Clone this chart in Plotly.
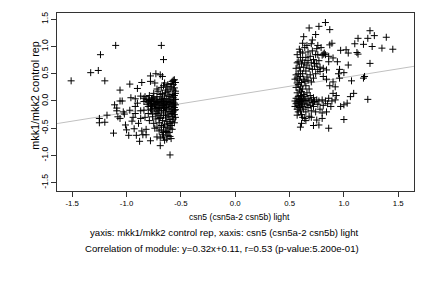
import plotly.graph_objects as go

# ---- data ----
left_sparse = [(-1.51,0.37),(-1.33,0.52),(-1.26,0.56),(-1.24,0.85),(-1.20,0.37),(-1.10,1.02),
(-1.25,-0.32),(-1.25,-0.40),(-1.20,-0.39),(-1.18,-0.26),(-1.12,-0.59),(-1.11,-0.07),(-1.09,-0.13),
(-1.09,-0.18),(-1.08,-0.29),(-1.06,0.20),(-1.06,0.0),(-1.04,0.0),(-1.06,-0.32),(-1.03,-0.20),
(-1.02,-0.24),(-1.01,-0.44),(-1.0,-0.53),(-0.98,-0.63),(-0.97,0.31),(-0.96,0.06),(-0.97,-0.17),
(-0.95,-0.37),(-0.94,-0.30),(-0.93,-0.51),(-0.92,0.04),(-0.92,-0.10),(-0.92,-0.23),(-0.91,-0.63),
(-0.90,0.23),(-0.90,-0.04),(-0.89,-0.41),(-0.88,-0.74),(-0.87,0.09),(-0.87,-0.18),(-0.87,-0.32),
(-0.86,-0.55),(-0.86,0.34),(-0.85,-0.62),(-0.84,-0.01),(-0.84,-0.17),(-0.83,0.08),(-0.83,-0.30),
(-0.82,-0.62),(-0.82,-0.52),(-0.81,-0.06),(-0.80,0.03),(-0.80,-0.23),(-0.79,-0.36),(-0.78,0.46),
(-0.78,-0.73),(-0.78,0.36),(-0.77,-0.08),(-0.77,-0.17),(-0.76,-0.29),(-0.76,0.05),(-0.75,-0.41),
(-0.74,-0.50),(-0.74,0.33),(-0.73,0.50),(-0.73,-0.04),(-0.72,0.22),(-0.72,-0.23),(-0.72,-0.66),
(-0.72,0.02),(-0.71,-0.15),(-0.70,-0.32),(-0.69,-0.82),(-0.69,0.48),(-0.68,-0.53),(-0.68,1.02),
(-0.67,0.14),(-0.67,0.45),(-0.66,-0.66),(-0.66,0.76),(-0.65,0.33),(-0.65,-0.72),(-0.64,-0.26),
(-0.64,0.20),(-0.63,-0.56),(-0.63,-0.06),(-0.62,-0.63),(-0.61,0.11),(-0.60,-0.41),(-0.60,-0.99),
(-0.59,0.26),(-0.59,-0.69),(-0.58,-0.23),(-0.58,0.36),(-0.57,0.02),(-0.57,0.20),(-0.56,0.39),
(-0.56,-0.17),(-0.55,0.14)]

left_dense = [(-0.80,-0.02),(-0.79,0.01),(-0.78,-0.05),(-0.77,0.03),(-0.76,-0.10),(-0.75,-0.02),
(-0.75,0.06),(-0.74,-0.14),(-0.74,0.00),(-0.73,-0.07),(-0.73,-0.20),(-0.72,0.08),(-0.72,-0.12),
(-0.71,-0.03),(-0.71,-0.26),(-0.70,0.02),(-0.70,-0.09),(-0.70,-0.18),(-0.69,0.12),(-0.69,-0.05),
(-0.69,-0.30),(-0.68,-0.01),(-0.68,-0.14),(-0.68,-0.22),(-0.67,0.05),(-0.67,-0.08),(-0.67,-0.36),
(-0.66,0.00),(-0.66,-0.17),(-0.66,-0.27),(-0.65,0.09),(-0.65,-0.04),(-0.65,-0.12),(-0.65,-0.44),
(-0.64,-0.02),(-0.64,-0.20),(-0.64,-0.31),(-0.63,0.04),(-0.63,-0.09),(-0.63,-0.15),(-0.63,-0.38),
(-0.62,0.17),(-0.62,-0.01),(-0.62,-0.24),(-0.62,-0.48),(-0.61,0.02),(-0.61,-0.06),(-0.61,-0.13),
(-0.61,-0.29),(-0.60,0.08),(-0.60,-0.03),(-0.60,-0.19),(-0.60,-0.34),(-0.59,0.00),(-0.59,-0.10),
(-0.59,-0.22),(-0.59,-0.45),(-0.58,0.12),(-0.58,-0.05),(-0.58,-0.15),(-0.58,-0.28),(-0.58,-0.52),
(-0.57,0.30),(-0.57,0.06),(-0.57,-0.02),(-0.57,-0.09),(-0.57,-0.20),(-0.57,-0.33),(-0.56,0.24),
(-0.56,0.10),(-0.56,-0.04),(-0.56,-0.12),(-0.56,-0.25),(-0.56,-0.40),(-0.55,0.18),(-0.55,0.03),
(-0.55,-0.07),(-0.55,-0.16),(-0.55,-0.30),(-0.55,0.34),(-0.60,0.22),(-0.62,0.30),(-0.64,0.15),
(-0.66,-0.48),(-0.64,-0.55),(-0.61,-0.58),(-0.68,-0.45),(-0.70,-0.40),(-0.73,-0.33),(-0.76,-0.24),
(-0.78,-0.15),(-0.80,-0.10),(-0.82,0.02),(-0.84,0.05),(-0.79,0.10),(-0.75,0.14),(-0.71,0.18),
(-0.68,0.25),(-0.66,0.28),(-0.63,0.26),(-0.59,0.32),(-0.57,0.38),(-0.60,-0.65),(-0.63,-0.70),
(-0.67,-0.62),(-0.70,-0.55),(-0.72,-0.48),(-0.69,-0.68),(-0.66,-0.58),(-0.60,-0.50),(-0.58,-0.38),
(-0.62,-0.42),(-0.64,-0.12),(-0.66,-0.07),(-0.68,0.03),(-0.70,-0.12),(-0.72,-0.01),(-0.74,-0.06),
(-0.77,-0.01)]

right_sparse = [(0.68,1.34),(0.77,1.37),(0.83,1.44),(0.87,1.31),(0.74,1.22),(0.63,1.18),(0.71,1.12),
(1.13,1.15),(1.22,1.15),(1.28,1.20),(1.24,1.29),(1.39,1.17),(1.45,0.95),(1.35,0.97),(1.26,1.0),
(1.18,1.04),(1.10,1.05),(1.02,0.94),(0.97,0.93),(1.04,0.88),(1.12,0.89),(1.13,0.86),(1.24,0.69),
(1.04,0.66),(1.0,0.52),(0.96,0.58),(0.94,0.72),(0.90,0.79),(1.07,0.37),(1.18,0.42),(1.19,0.45),
(1.22,0.03),(1.09,0.14),(1.06,0.08),(1.03,-0.04),(1.00,-0.07),(0.97,-0.10),(1.00,-0.34),
(0.86,-0.50),(0.77,-0.44),(0.72,-0.45),(0.80,-0.32),(0.60,-0.48),(0.61,-0.41),(0.64,-0.32),
(0.57,-0.26),(0.92,0.02),(0.89,0.0),(0.86,0.05),(0.90,0.14),(0.87,0.28),(0.92,0.26),(0.96,0.42),
(0.81,0.45),(0.84,0.57),(0.78,0.54),(0.73,0.69),(0.76,0.85),(0.81,0.86),(0.86,0.82),(0.87,1.03),
(0.89,1.06),(0.83,0.85)]

right_dense = [(0.55,0.40),(0.55,0.00),(0.55,-0.10),(0.56,0.60),(0.56,0.25),(0.56,0.05),(0.56,-0.05),
(0.57,0.85),(0.57,0.42),(0.57,0.15),(0.57,-0.02),(0.57,-0.15),(0.58,0.72),(0.58,0.50),(0.58,0.30),
(0.58,0.08),(0.58,0.00),(0.58,-0.08),(0.58,-0.20),(0.59,0.95),(0.59,0.62),(0.59,0.38),(0.59,0.20),
(0.59,0.03),(0.59,-0.04),(0.59,-0.12),(0.60,0.80),(0.60,0.55),(0.60,0.45),(0.60,0.26),(0.60,0.10),
(0.60,-0.01),(0.60,-0.18),(0.61,0.68),(0.61,0.34),(0.61,0.17),(0.61,0.05),(0.61,-0.07),(0.61,-0.25),
(0.62,0.88),(0.62,0.75),(0.62,0.50),(0.62,0.22),(0.62,0.00),(0.62,-0.10),(0.63,0.62),(0.63,0.40),
(0.63,0.12),(0.63,0.02),(0.63,-0.15),(0.64,0.98),(0.64,0.70),(0.64,0.36),(0.64,0.08),(0.64,-0.04),
(0.65,0.80),(0.65,0.55),(0.65,0.28),(0.65,0.01),(0.65,-0.20),(0.66,0.66),(0.66,0.44),(0.66,0.15),
(0.66,-0.06),(0.67,0.90),(0.67,0.74),(0.67,0.38),(0.67,0.04),(0.67,-0.12),(0.68,0.60),(0.68,0.22),
(0.68,0.00),(0.68,-0.28),(0.69,0.82),(0.69,0.48),(0.69,0.10),(0.69,-0.08),(0.70,0.70),(0.70,0.35),
(0.70,0.02),(0.70,-0.18),(0.71,0.92),(0.71,0.58),(0.71,-0.03),(0.72,0.76),(0.72,0.42),
(0.72,0.06),(0.72,-0.10),(0.73,0.64),(0.73,-0.01),(0.74,0.85),(0.74,0.50),
(0.74,-0.20),(0.75,0.96),(0.75,0.68),(0.75,0.02),(0.76,0.58),(0.76,-0.06),(0.77,0.74),
(0.77,0.00),(0.78,0.62),(0.78,-0.15),(0.79,0.98),(0.80,0.84),
(0.80,0.02),(0.81,0.60),(0.81,-0.08),(0.83,0.00),(0.84,-0.20),(0.84,0.40),(0.85,-0.05),
(0.86,0.72),(0.82,0.88),(0.76,1.02),(0.70,1.05),(0.66,1.02),(0.62,1.06),(0.60,0.90),(0.57,0.70),
(0.56,0.48),(0.57,0.33),(0.62,-0.30),(0.65,-0.36),(0.70,-0.30),(0.75,-0.35),(0.80,-0.22),
(0.88,-0.10),(0.93,0.10),(0.90,0.35),(0.95,0.50)]

slope, intercept = 0.32, 0.11
x_range = [-1.64, 1.645]
y_range = [-1.652, 1.615]
tick_vals = [-1.5, -1.0, -0.5, 0.0, 0.5, 1.0, 1.5]
tick_text = ["-1.5", "-1.0", "-0.5", "0.0", "0.5", "1.0", "1.5"]

x_title = "csn5 (csn5a-2 csn5b) light"
y_title = "mkk1/mkk2 control rep"
sub1 = "yaxis: mkk1/mkk2 control rep, xaxis: csn5 (csn5a-2 csn5b) light"
sub2 = "Correlation of module: y=0.32x+0.11, r=0.53 (p-value:5.200e-01)"

points = left_sparse + left_dense + right_sparse + right_dense
px = [p[0] for p in points]
py = [p[1] for p in points]

FONT = "Liberation Sans, Arial, sans-serif"

fig = go.Figure()
fig.add_trace(go.Scatter(
    x=x_range, y=[slope * v + intercept for v in x_range],
    mode="lines", line=dict(color="#c0c0c0", width=1), hoverinfo="skip"))
fig.add_trace(go.Scatter(
    x=px, y=py, mode="markers",
    marker=dict(symbol="cross-thin", size=5, color="black",
                line=dict(color="black", width=1))))

axis_common = dict(showgrid=False, zeroline=False, showline=True, linecolor="#333333",
                   linewidth=1, mirror=True, ticks="outside", ticklen=5, tickwidth=1,
                   tickcolor="#333333", tickvals=tick_vals, ticktext=tick_text)

fig.update_layout(
    width=432, height=288, showlegend=False,
    margin=dict(l=57, r=18, t=13, b=97),
    paper_bgcolor="white", plot_bgcolor="white",
    xaxis=dict(range=x_range, tickfont=dict(family=FONT, size=7.8, color="black"),
               **axis_common),
    yaxis=dict(range=y_range, tickangle=-90,
               tickfont=dict(family=FONT, size=8.6, color="black"), **axis_common),
)

fig.add_annotation(text=x_title, xref="paper", yref="paper", x=0.5, y=0,
                   xshift=3.6, yshift=-25.5, showarrow=False, yanchor="middle",
                   font=dict(family=FONT, size=8.6, color="black"))
fig.add_annotation(text=sub1, xref="paper", yref="paper", x=0.5, y=0,
                   xshift=-10.8, yshift=-41.5, showarrow=False, yanchor="middle",
                   font=dict(family=FONT, size=9.6, color="black"))
fig.add_annotation(text=sub2, xref="paper", yref="paper", x=0.5, y=0,
                   xshift=-13.7, yshift=-57.5, showarrow=False, yanchor="middle",
                   font=dict(family=FONT, size=9.6, color="black"))
fig.add_annotation(text=y_title, xref="paper", yref="paper", x=0, y=0.539,
                   xshift=-22.3, showarrow=False, textangle=-90,
                   xanchor="center", yanchor="middle",
                   font=dict(family=FONT, size=10.8, color="black"))

fig.write_html("out.html")
